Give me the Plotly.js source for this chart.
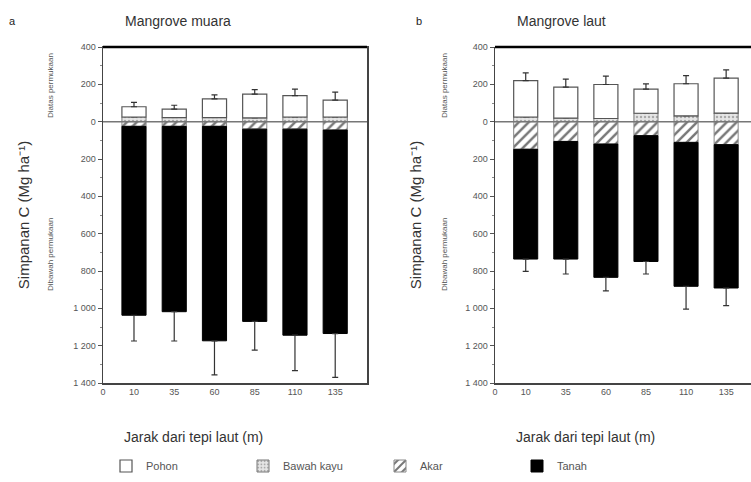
<!DOCTYPE html>
<html>
<head>
<meta charset="utf-8">
<script src="https://cdn.plot.ly/plotly-3.0.1.min.js"></script>
<style>html,body{margin:0;padding:0;background:#fff;}#chart{width:751px;height:482px;}</style>
</head>
<body>
<div id="chart"></div>
<script>
// ---- data (Mg C ha^-1) ----
const distances = ['10', '35', '60', '85', '110', '135'];
const seriesNames = ['Pohon', 'Bawah kayu', 'Akar', 'Tanah'];

// Panel a: Mangrove muara
const pohonA = [55, 45, 100, 128, 114, 90];
const pohonAErr = [23, 21, 22, 24, 35, 43];
const bawahA = [25, 22, 22, 20, 25, 25];
const bawahAErr = [8, 8, 8, 8, 8, 8];
const akarA = [25, 25, 25, 40, 40, 45];
const akarAErr = [8, 8, 8, 10, 10, 10];
const tanahA = [1012, 993, 1149, 1030, 1104, 1090];
const tanahAErr = [138, 157, 182, 154, 190, 235];

// Panel b: Mangrove laut
const pohonB = [195, 166, 182, 129, 172, 187];
const pohonBErr = [41, 43, 45, 28, 44, 44];
const bawahB = [25, 19, 17, 45, 31, 46];
const bawahBErr = [5, 5, 5, 28, 5, 18];
const akarB = [148, 106, 120, 75, 111, 123];
const akarBErr = [40, 23, 54, 13, 25, 63];
const tanahB = [588, 630, 714, 674, 771, 768];
const tanahBErr = [66, 80, 72, 67, 122, 95];

const yTickVals = [-1400, -1200, -1000, -800, -600, -400, -200, 0, 200, 400];

// ---- helpers ----
const FONT = '"Liberation Sans Narrow", "Liberation Sans", Arial, sans-serif';
const pos = distances.map((d, i) => i + 1);
const neg = a => a.map(v => -v);
const zeros = a => a.map(() => 0);
const fmt = v => { const s = String(Math.abs(v)); return s.length > 3 ? s.slice(0, -3) + ' ' + s.slice(-3) : s; };

function makeTraces(xa, ya, pohon, pohonErr, bawah, bawahErr, akar, akarErr, tanah, tanahErr, show) {
  const common = {type: 'bar', x: pos, xaxis: xa, yaxis: ya, width: 0.6, showlegend: show, hoverinfo: 'y'};
  return [
    Object.assign({}, common, {
      name: seriesNames[1], legendrank: 2, y: bawah,
      marker: {color: '#e6e6e6', line: {color: '#777', width: 1}, pattern: {shape: '.', fgcolor: '#aaa', bgcolor: '#e6e6e6', size: 4, solidity: 0.3}},
      error_y: {type: 'data', symmetric: false, array: bawahErr, arrayminus: zeros(bawahErr), color: '#444', thickness: 1, width: 3}
    }),
    Object.assign({}, common, {
      name: seriesNames[0], legendrank: 1, y: pohon,
      marker: {color: '#ffffff', line: {color: '#555', width: 1.2}},
      error_y: {type: 'data', symmetric: false, array: pohonErr, arrayminus: zeros(pohonErr), color: '#333', thickness: 1.2, width: 3}
    }),
    Object.assign({}, common, {
      name: seriesNames[2], legendrank: 3, y: neg(akar),
      marker: {color: '#ffffff', line: {color: '#888', width: 1}, pattern: {shape: '/', fgcolor: '#777', bgcolor: '#ffffff', size: 7, solidity: 0.35}},
      error_y: {type: 'data', symmetric: false, array: zeros(akarErr), arrayminus: akarErr, color: '#888', thickness: 1, width: 3}
    }),
    Object.assign({}, common, {
      name: seriesNames[3], legendrank: 4, y: neg(tanah),
      marker: {color: '#000000', line: {color: '#000', width: 1}},
      error_y: {type: 'data', symmetric: false, array: zeros(tanahErr), arrayminus: tanahErr, color: '#333', thickness: 1.2, width: 3}
    })
  ];
}

const traces = [].concat(
  makeTraces('x', 'y', pohonA, pohonAErr, bawahA, bawahAErr, akarA, akarAErr, tanahA, tanahAErr, true),
  makeTraces('x2', 'y2', pohonB, pohonBErr, bawahB, bawahBErr, akarB, akarBErr, tanahB, tanahBErr, false)
);

const W = 751, H = 482;
const px = x => x / W, py = y => 1 - y / H;
const xRangeA = [0.23, 6.79];
const xRangeB = [0.234, 6.62];
const yTitle = 'Simpanan C (Mg ha⁻¹)';

function xAxis(domain, range, mirror) {
  return {
    domain: domain, range: range, tickmode: 'array',
    tickvals: [range[0]].concat(pos), ticktext: ['0'].concat(distances),
    ticks: '', showgrid: false, zeroline: false, showline: true, linecolor: '#444', linewidth: 1.5,
    mirror: mirror, tickfont: {family: FONT, size: 9, color: '#555'}, fixedrange: true
  };
}
function yAxis(anchor, mirror) {
  return {
    anchor: anchor, domain: [py(383), py(47)], range: [-1400, 400], tickmode: 'array',
    tickvals: yTickVals, ticktext: yTickVals.map(fmt),
    ticks: 'outside', ticklen: 4, tickcolor: '#555', tickwidth: 1,
    minor: {tickmode: 'linear', tick0: 0, dtick: 100, ticks: 'outside', ticklen: 2, tickcolor: '#888'},
    showgrid: false, zeroline: false, showline: true, linecolor: '#444', linewidth: 1.5, mirror: mirror,
    tickfont: {family: FONT, size: 9, color: '#555'}, fixedrange: true,
    title: {text: yTitle, standoff: 40, font: {family: FONT, size: 15, color: '#333'}}
  };
}

const ann = (text, x, y, opts) => Object.assign({
  text: text, x: px(x), y: py(y), xref: 'paper', yref: 'paper', showarrow: false,
  font: {family: FONT, size: 12, color: '#333'}, xanchor: 'center', yanchor: 'middle'
}, opts || {});

const layout = {
  width: W, height: H, margin: {l: 0, r: 0, t: 0, b: 0},
  paper_bgcolor: '#fff', plot_bgcolor: '#fff',
  barmode: 'relative',
  xaxis: Object.assign(xAxis([px(103), px(367)], xRangeA, true), {anchor: 'y'}),
  yaxis: yAxis('x', true),
  xaxis2: Object.assign(xAxis([px(495), 1], xRangeB, false), {anchor: 'y2'}),
  yaxis2: yAxis('x2', false),
  showlegend: true,
  legend: {orientation: 'h', x: px(106), y: py(466), xanchor: 'left', yanchor: 'middle',
    entrywidth: 92, entrywidthmode: 'pixels', traceorder: 'normal',
    font: {family: FONT, size: 11, color: '#555'}, itemwidth: 30, bgcolor: 'rgba(0,0,0,0)'},
  shapes: [
    {type: 'line', xref: 'x domain', yref: 'y', x0: 0, x1: 1, y0: 0, y1: 0, line: {color: '#777', width: 1.5}, layer: 'above'},
    {type: 'line', xref: 'x2 domain', yref: 'y2', x0: 0, x1: 1, y0: 0, y1: 0, line: {color: '#777', width: 1.5}, layer: 'above'},
    {type: 'line', xref: 'x domain', yref: 'y domain', x0: 0, x1: 1, y0: 1, y1: 1, line: {color: '#000', width: 2.5}, layer: 'above'},
    {type: 'line', xref: 'x2 domain', yref: 'y2 domain', x0: 0, x1: 1, y0: 1, y1: 1, line: {color: '#000', width: 2.5}, layer: 'above'}
  ],
  annotations: [
    ann('a', 12, 21, {font: {family: FONT, size: 11, color: '#222'}}),
    ann('b', 419, 21, {font: {family: FONT, size: 11, color: '#222'}}),
    ann('Mangrove muara', 123, 21, {xanchor: 'left', font: {family: FONT, size: 14, color: '#333'}}),
    ann('Mangrove laut', 515, 21, {xanchor: 'left', font: {family: FONT, size: 14, color: '#333'}}),
    ann('Diatas permukaan', 50, 86, {textangle: -90, font: {family: FONT, size: 8, color: '#555'}}),
    ann('Dibawah permukaan', 50, 255, {textangle: -90, font: {family: FONT, size: 8, color: '#555'}}),
    ann('Diatas permukaan', 444, 86, {textangle: -90, font: {family: FONT, size: 8, color: '#555'}}),
    ann('Dibawah permukaan', 444, 255, {textangle: -90, font: {family: FONT, size: 8, color: '#555'}}),
    ann('Jarak dari tepi laut (m)', 122, 437, {xanchor: 'left', font: {family: FONT, size: 14, color: '#333'}}),
    ann('Jarak dari tepi laut (m)', 514, 437, {xanchor: 'left', font: {family: FONT, size: 14, color: '#333'}})
  ]
};

Plotly.newPlot('chart', traces, layout, {staticPlot: true, displayModeBar: false});
</script>
</body>
</html>
